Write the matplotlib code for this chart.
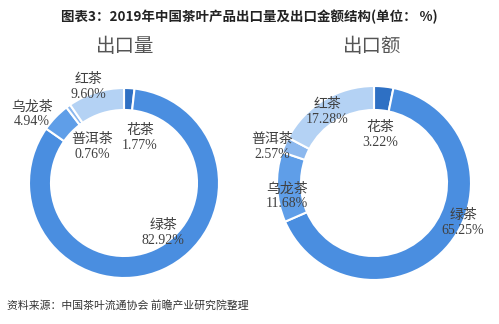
import matplotlib.pyplot as plt

plt.rcParams['font.family'] = ['Noto Sans CJK SC', 'DejaVu Sans']

# 数据
teas = ["花茶", "绿茶", "乌龙茶", "普洱茶", "红茶"]
volume = [1.77, 82.92, 4.94, 0.76, 9.60]
value = [3.22, 65.25, 11.68, 2.57, 17.28]
colors = ["#2e70c4", "#4a8ee0", "#5f9ee8", "#8cb8ee", "#b4d2f4"]

W, H = 499, 324
fig = plt.figure(figsize=(W / 100, H / 100), dpi=100)
ax = fig.add_axes([0, 0, 1, 1])


def Y(y):
    return H - y


# 环形图
ax.pie(volume, colors=colors, startangle=90, counterclock=False,
       center=(124, Y(183)), radius=95, frame=True,
       wedgeprops=dict(width=22, edgecolor='white', linewidth=1.5))
ax.pie(value, colors=colors, startangle=90, counterclock=False,
       center=(374, Y(183)), radius=97, frame=True,
       wedgeprops=dict(width=24, edgecolor='white', linewidth=1.5))
ax.set_xlim(0, W)
ax.set_ylim(0, H)
ax.set_aspect('equal')
ax.axis('off')

# 标签位置 (像素)
pos_l = [(140, 138), (163, 233), (32, 114), (92, 147), (88, 87)]
pos_r = [(380, 135), (463, 223), (287, 196), (272, 147), (327, 112)]
lab_font = ['Liberation Serif', 'Noto Sans CJK SC']
for pos, data in ((pos_l, volume), (pos_r, value)):
    for (x, y), name, v in zip(pos, teas, data):
        ax.text(x, Y(y), "%s\n%.2f%%" % (name, v), ha='center', va='center',
                fontsize=10, color='#404040', family=lab_font, linespacing=1.15)

# 标题
ax.text(249, Y(17), "图表3：2019年中国茶叶产品出口量及出口金额结构(单位： %)",
        ha='center', va='center', fontsize=9.7, fontweight='bold', color='#222222')
ax.text(125, Y(46), "出口量", ha='center', va='center', fontsize=14,
        color='#555555', fontweight='light')
ax.text(372, Y(46), "出口额", ha='center', va='center', fontsize=14,
        color='#555555', fontweight='light')
ax.text(7, Y(305), "资料来源：中国茶叶流通协会 前瞻产业研究院整理", ha='left', va='center',
        fontsize=7.8, color='#333333')

fig.savefig("out.png", dpi=100)
